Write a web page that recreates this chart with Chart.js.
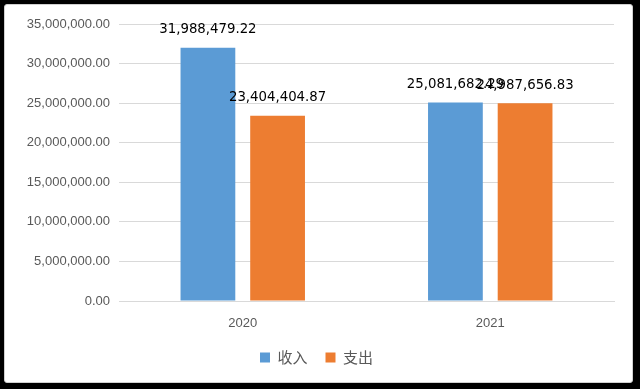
<!DOCTYPE html>
<html>
<head>
<meta charset="utf-8">
<script src="https://cdn.jsdelivr.net/npm/chart.js@4/dist/chart.umd.min.js"></script>
<style>
  html, body { margin: 0; padding: 0; background: #000; }
  #box {
    position: absolute; left: 4px; top: 4px; width: 629px; height: 379px;
    background: #fff; border: 1px solid #d0d0d0; box-sizing: border-box; border-radius: 3px;
  }
  #canv { display: block; }
</style>
</head>
<body>
<div id="box"><canvas id="canv" width="627" height="377"></canvas></div>
<script>
var years = ['2020', '2021'];
var income = [31988479.22, 25081682.29];
var expense = [23404404.87, 24987656.83];
var seriesNames = ['收入', '支出'];

function fmt(v) {
  return v.toLocaleString('en-US', { minimumFractionDigits: 2, maximumFractionDigits: 2 });
}

// draw value labels above each bar
var valueLabels = {
  id: 'valueLabels',
  afterDatasetsDraw: function(chart) {
    var ctx = chart.ctx;
    ctx.save();
    ctx.font = '13.3px "DejaVu Sans"';
    ctx.fillStyle = '#000';
    ctx.textAlign = 'center';
    ctx.textBaseline = 'middle';
    chart.data.datasets.forEach(function(ds, i) {
      chart.getDatasetMeta(i).data.forEach(function(bar, j) {
        ctx.fillText(fmt(ds.data[j]), bar.x, bar.y - 18);
      });
    });
    ctx.restore();
  }
};

chart = new Chart(document.getElementById('canv'), {
  type: 'bar',
  data: {
    labels: years,
    datasets: [
      { label: seriesNames[0], data: income, backgroundColor: '#5B9BD5' },
      { label: seriesNames[1], data: expense, backgroundColor: '#ED7D31' }
    ]
  },
  options: {
    responsive: false,
    animation: false,
    layout: { padding: { top: 19, bottom: 7, left: 14, right: 18 } },
    datasets: { bar: { categoryPercentage: 0.563, barPercentage: 0.786 } },
    scales: {
      x: {
        grid: { display: false, drawTicks: false },
        border: { color: '#d9d9d9' },
        ticks: { color: '#595959', font: { family: 'Liberation Sans', size: 13 }, padding: 14.5 },
        afterFit: function(s) { s.height = 31; }
      },
      y: {
        min: 0, max: 35000000,
        grid: { color: '#d9d9d9', drawTicks: false },
        border: { display: false },
        ticks: {
          stepSize: 5000000,
          color: '#595959',
          font: { family: 'Liberation Sans', size: 13 },
          padding: 9,
          callback: function(v) { return fmt(v); }
        },
        afterFit: function(s) { s.width = 100; }
      }
    },
    plugins: {
      legend: {
        position: 'bottom',
        labels: {
          boxWidth: 10, boxHeight: 10, padding: 18,
          color: '#595959',
          font: { family: 'Noto Sans CJK SC', size: 15 }
        }
      },
      tooltip: { enabled: false }
    }
  },
  plugins: [valueLabels]
});
</script>
</body>
</html>
